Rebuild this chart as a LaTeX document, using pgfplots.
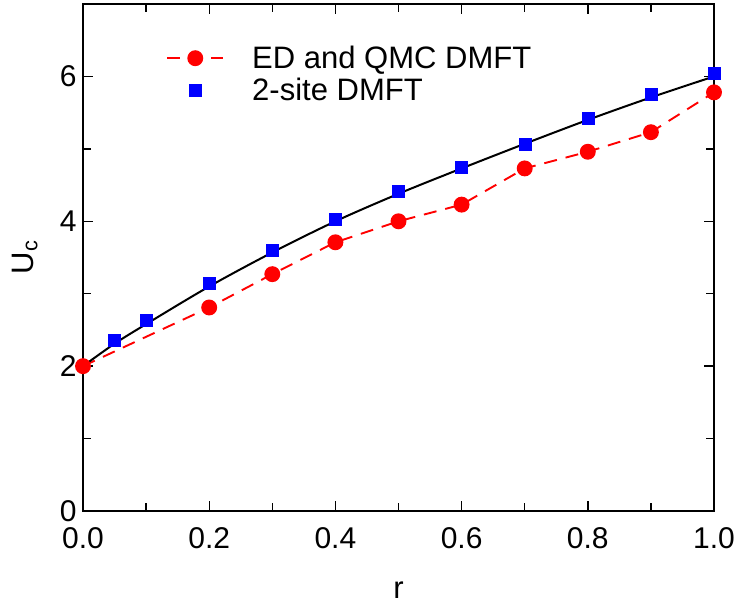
\documentclass[border=0pt]{standalone}
\usepackage{pgfplots}
\pgfplotsset{compat=1.18}
\usetikzlibrary{calc}
\usepackage{fontspec}
\setmainfont{Liberation Sans}

\pgfplotsset{
    lineleg/.style={legend image code/.code={%
        \draw[mark repeat=2,mark phase=2,##1] plot coordinates {(0pt,0pt) (28pt,0pt) (56pt,0pt)};}},
    markleg/.style={legend image code/.code={%
        \draw[##1, draw=none] (0pt,0pt) -- (56pt,0pt);
        \draw[##1] plot[only marks] coordinates {(28pt,0pt)};}},
}

\begin{document}
\begin{tikzpicture}[x=1pt,y=1pt]
\begin{axis}[
    name=ax,
    scale only axis,
    width=631pt, height=507pt,
    xmin=0, xmax=1, ymin=0, ymax=7,
    xtick={0,0.2,0.4,0.6,0.8,1.0},
    ytick={0,2,4,6},
    minor x tick num=1,
    minor y tick num=1,
    tick align=inside,
    major tick length=10pt,
    minor tick length=8pt,
    axis line style={line width=1.5pt},
    every tick/.style={black, line width=1.4pt},
    xticklabel style={yshift=-13pt, /pgf/number format/.cd,fixed,fixed zerofill,precision=1},
    yticklabel style={xshift=-3pt},
    /pgf/number format/assume math mode=true,
    tick label style={font=\fontsize{30}{30}\selectfont},
    xlabel={r},
    ylabel={U\textsubscript{c}},
    label style={font=\fontsize{31}{31}\selectfont},
    xlabel style={at={(axis description cs:0.5,0)}, anchor=center, yshift=-79pt},
    ylabel style={at={(axis description cs:0,0.5)}, anchor=center, rotate=0, yshift=58pt},
    legend style={draw=none, fill=none, at={(rel axis cs:0.127,0.925)}, anchor=north west,
        font=\fontsize{31}{31}\selectfont, row sep=4pt},
    legend cell align=left,
    clip=false,
]
\addplot[red, line width=1.9pt, dash pattern=on 13pt off 9pt, mark=*, mark size=7pt,
    mark options={solid}, lineleg]
    coordinates {(0,2.0) (0.2,2.81) (0.3,3.27) (0.4,3.71) (0.5,4.0) (0.6,4.23)
                 (0.7,4.73) (0.8,4.96) (0.9,5.23) (1.0,5.78)};
\addlegendentry{\hspace{26pt}ED and QMC DMFT}
\addplot[only marks, blue, mark=square*, mark size=6pt, markleg]
    coordinates {(0.05,2.36) (0.1,2.64) (0.2,3.15) (0.3,3.6) (0.4,4.03) (0.5,4.41)
                 (0.6,4.75) (0.7,5.06) (0.8,5.43) (0.9,5.75) (1.0,6.04)};
\addlegendentry{\hspace{26pt}2-site DMFT}
\addplot[black, line width=2pt, smooth, forget plot]
    coordinates {(0,2.0) (0.05,2.31) (0.1,2.58) (0.2,3.1) (0.3,3.57) (0.4,4.0)
                 (0.5,4.38) (0.6,4.73) (0.7,5.07) (0.8,5.4) (0.9,5.71) (1.0,6.0)};
\end{axis}
\pgfresetboundingbox
\path[use as bounding box] ($(ax.south west)+(-83pt,-101pt)$) rectangle ($(ax.north east)+(24pt,4pt)$);
\end{tikzpicture}
\end{document}
